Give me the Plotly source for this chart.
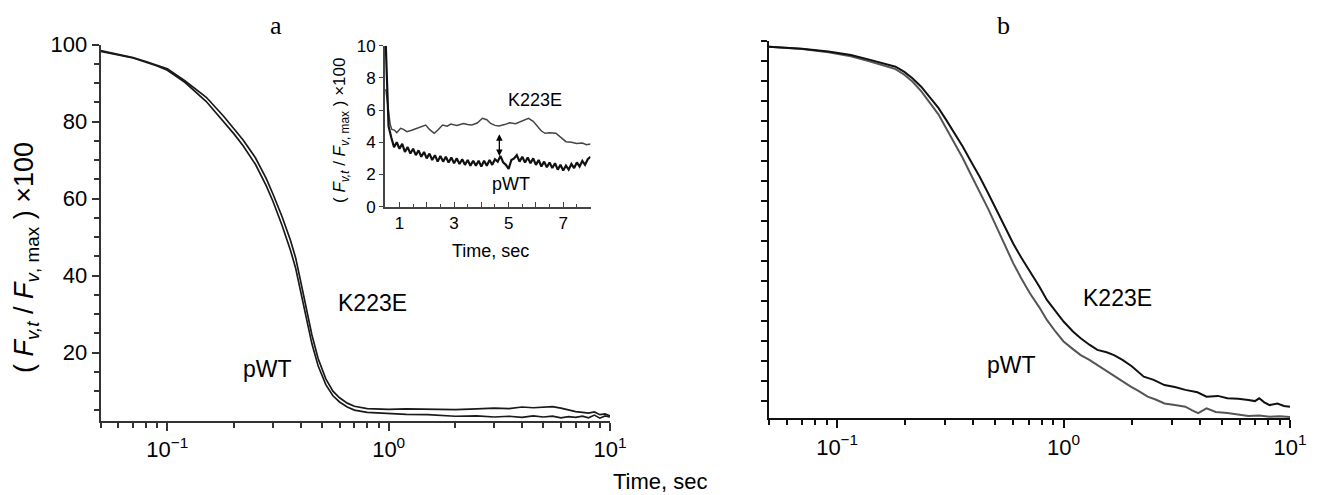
import plotly.graph_objects as go

# ---------------- data ----------------
# Panel a (main): time (s) and normalized fluorescence
a_time = [0.05, 0.06, 0.07, 0.08, 0.09, 0.10, 0.12, 0.15, 0.18, 0.20, 0.22, 0.25, 0.28, 0.30,
          0.33, 0.36, 0.38, 0.40, 0.42, 0.45, 0.48, 0.52, 0.56, 0.60, 0.65, 0.70, 0.80, 0.90, 1.0,
          1.2, 1.5, 1.8, 2.0, 2.5, 3.0, 3.5, 4.0, 4.5, 5.0, 5.5, 6.0, 6.5, 7.0, 7.5, 8.0, 8.5,
          9.0, 9.5, 10.0]
a_k223e = [98.4, 97.5, 96.6, 95.6, 94.7, 93.7, 90.6, 86.3, 81.3, 78.2, 75.2, 70.6, 65.2, 61.2,
           55.3, 49.2, 44.6, 38.6, 32.5, 24.6, 18.5, 13.2, 10.0, 8.3, 6.9, 6.1, 5.5, 5.4, 5.3,
           5.4, 5.3, 5.1, 5.2, 5.4, 5.6, 5.5, 5.9, 5.7, 5.8, 6.0, 5.6, 5.1, 4.7, 4.5, 4.3, 4.6,
           3.9, 4.1, 3.6]
a_pwt = [98.2, 97.3, 96.5, 95.4, 94.4, 93.3, 90.2, 85.2, 80.0, 76.8, 73.7, 68.9, 63.3, 59.3,
         53.0, 46.6, 41.9, 35.8, 29.8, 22.3, 16.6, 11.7, 8.8, 7.2, 5.9, 5.1, 4.5, 4.3, 4.2,
         4.0, 3.9, 3.7, 3.5, 3.6, 3.3, 3.5, 3.2, 3.6, 3.3, 3.5, 3.1, 3.4, 3.2, 3.5, 3.1, 3.8,
         3.0, 3.6, 3.3]

# Panel b
b_k_time = [0.05, 0.07, 0.0914, 0.115, 0.14, 0.16, 0.181, 0.198, 0.215, 0.235, 0.255, 0.28,
            0.303, 0.33, 0.359, 0.39, 0.426, 0.465, 0.505, 0.55, 0.599, 0.65, 0.711, 0.78,
            0.844, 0.92, 1.0, 1.1, 1.19, 1.3, 1.41, 1.55, 1.67, 1.82, 2.0, 2.26, 2.5, 2.79,
            3.1, 3.45, 3.9, 4.28, 4.8, 5.29, 5.9, 6.55, 7.0, 7.31, 7.7, 8.13, 8.8, 9.4, 10.0]
b_k223e = [98.5, 98.0, 97.3, 96.4, 95.2, 94.4, 93.5, 92.2, 90.6, 88.5, 86.0, 83.2,
           80.2, 76.9, 73.5, 69.8, 66.0, 61.8, 57.7, 53.4, 49.3, 45.8, 42.3, 38.6,
           35.2, 32.4, 29.8, 27.3, 25.6, 24.0, 22.7, 22.1, 21.4, 20.2, 18.6, 16.0, 15.2, 13.9,
           13.4, 12.7, 12.1, 11.0, 11.2, 10.6, 10.5, 10.2, 9.9, 10.6, 9.6, 8.9, 9.3, 8.7, 8.5]
b_p_time = [0.05, 0.07, 0.0914, 0.115, 0.14, 0.16, 0.181, 0.198, 0.215, 0.235, 0.255, 0.28,
            0.303, 0.33, 0.359, 0.39, 0.426, 0.465, 0.505, 0.55, 0.599, 0.65, 0.711, 0.78,
            0.844, 0.92, 1.0, 1.1, 1.19, 1.3, 1.41, 1.55, 1.67, 1.82, 1.98, 2.15, 2.35, 2.55,
            2.79, 3.1, 3.45, 3.7, 3.93, 4.28, 4.7, 5.29, 5.9, 6.55, 7.3, 8.13, 9.0, 10.0]
b_pwt = [98.5, 97.9, 97.1, 96.1, 94.8, 93.9, 92.9, 91.5, 89.8, 87.4, 84.8, 81.6,
         78.1, 74.4, 70.6, 66.5, 62.3, 57.9, 53.5, 49.0, 44.4, 40.6, 36.8, 33.4,
         30.2, 27.3, 24.8, 22.9, 21.4, 20.2, 18.9, 17.5, 16.4, 15.0, 13.5, 12.4, 11.0, 10.3,
         9.3, 8.9, 8.5, 7.6, 6.9, 8.1, 7.2, 6.9, 6.6, 6.2, 6.3, 6.0, 6.1, 5.9]

# Inset (linear time)
ins_k_time = [0.5, 0.55, 0.6, 0.66, 0.72, 0.81, 0.9, 1.04, 1.15, 1.27, 1.45, 1.66, 1.8, 1.96,
              2.1, 2.27, 2.4, 2.58, 2.75, 2.88, 3.1, 3.35, 3.5, 3.65, 3.85, 4.04, 4.2, 4.34,
              4.5, 4.65, 4.85, 5.04, 5.25, 5.42, 5.6, 5.73, 5.9, 6.03, 6.2, 6.34, 6.5, 6.73,
              6.9, 7.1, 7.3, 7.49, 7.7, 7.85, 8.0]
ins_k_val = [7.3, 6.6, 5.8, 5.1, 4.8, 4.76, 4.6, 4.87, 4.8, 4.66, 4.75, 4.87, 4.95, 5.07,
             4.8, 4.56, 4.75, 5.07, 5.0, 5.13, 5.05, 5.17, 5.1, 5.07, 5.2, 5.49, 5.4, 5.17,
             5.05, 5.01, 5.1, 5.21, 5.15, 5.27, 5.35, 5.49, 5.3, 5.01, 4.7, 4.56, 4.6, 4.56,
             4.3, 4.04, 4.0, 3.93, 3.95, 3.85, 3.89]
ins_p_time = [0.5, 0.55, 0.6, 0.7, 0.8, 0.9, 1.0, 1.1, 1.2, 1.3, 1.4, 1.5, 1.6, 1.7, 1.8, 1.9,
              2.0, 2.1, 2.2, 2.3, 2.4, 2.5, 2.6, 2.7, 2.8, 2.9, 3.0, 3.1, 3.2, 3.3, 3.4, 3.5,
              3.6, 3.7, 3.8, 3.9, 4.0, 4.1, 4.2, 4.3, 4.4, 4.5, 4.6, 4.7, 4.8, 4.9, 5.0, 5.1,
              5.2, 5.3, 5.4, 5.5, 5.6, 5.7, 5.8, 5.9, 6.0, 6.1, 6.2, 6.3, 6.4, 6.5, 6.6, 6.7,
              6.8, 6.9, 7.0, 7.1, 7.2, 7.3, 7.4, 7.5, 7.6, 7.7, 7.8, 7.9, 8.0]
ins_p_val = [10.0, 7.0, 5.0, 4.3, 3.7, 4.0, 3.6, 3.9, 3.4, 3.7, 3.3, 3.6, 3.2, 3.5, 3.1, 3.4,
             3.0, 3.3, 2.9, 3.2, 2.8, 3.15, 2.8, 3.1, 2.75, 3.05, 2.7, 3.0, 2.65, 2.95, 2.6, 2.9,
             2.55, 2.85, 2.55, 2.85, 2.5, 2.85, 2.55, 2.9, 2.6, 2.95, 2.8, 3.15, 2.75, 2.6, 2.35, 2.9,
             3.0, 3.2, 2.8, 3.1, 2.75, 3.05, 2.7, 3.0, 2.6, 2.9, 2.5, 2.8, 2.45, 2.75, 2.4, 2.7,
             2.3, 2.6, 2.25, 2.55, 2.3, 2.65, 2.4, 2.75, 2.5, 2.85, 2.6, 2.95, 3.1]

log_major = [0.1, 1, 10]
log_major_text = ["10<sup>−1</sup>", "10<sup>0</sup>", "10<sup>1</sup>"]
log_minor = [0.05, 0.06, 0.07, 0.08, 0.09, 0.2, 0.3, 0.4, 0.5, 0.6, 0.7, 0.8, 0.9,
             2, 3, 4, 5, 6, 7, 8, 9]
a_y_major = [20, 40, 60, 80, 100]
a_y_minor = [5, 10, 15, 25, 30, 35, 45, 50, 55, 65, 70, 75, 85, 90, 95]
b_y_ticks = [10, 15, 20, 25, 30, 35, 40, 45, 50, 55, 60, 65, 70, 75, 80, 85, 90, 95, 100]
ins_x_major = [1, 2, 3, 4, 5, 6, 7, 8]
ins_x_text = ["1", "", "3", "", "5", "", "7", ""]
ins_x_minor = [1.5, 2.5, 3.5, 4.5, 5.5, 6.5, 7.5]
ins_y_ticks = [0, 2, 4, 6, 8, 10]

# ---------------- figure ----------------
W, H = 1319, 495
OFF = 8  # page body margin offset in the browser
FONT = "Liberation Sans, Arial, sans-serif"
SERIF = "Liberation Serif, Times New Roman, serif"


def fx(px):
    return (px - OFF) / W


def fy(py):
    return 1 - (py - OFF) / H


fig = go.Figure()
fig.add_trace(go.Scatter(x=a_time, y=a_k223e, mode="lines", line=dict(color="#1a1a1a", width=1.7),
                         xaxis="x", yaxis="y", name="K223E"))
fig.add_trace(go.Scatter(x=a_time, y=a_pwt, mode="lines", line=dict(color="#1a1a1a", width=1.7),
                         xaxis="x", yaxis="y", name="pWT"))
fig.add_trace(go.Scatter(x=b_p_time, y=b_pwt, mode="lines", line=dict(color="#555555", width=2),
                         xaxis="x2", yaxis="y2", name="pWT"))
fig.add_trace(go.Scatter(x=b_k_time, y=b_k223e, mode="lines", line=dict(color="#111111", width=2),
                         xaxis="x2", yaxis="y2", name="K223E"))
fig.add_trace(go.Scatter(x=ins_k_time, y=ins_k_val, mode="lines", line=dict(color="#444444", width=1.5),
                         xaxis="x3", yaxis="y3", name="K223E"))
fig.add_trace(go.Scatter(x=ins_p_time, y=ins_p_val, mode="lines", line=dict(color="#111111", width=2.2),
                         xaxis="x3", yaxis="y3", name="pWT"))

axis_common = dict(showgrid=False, zeroline=False, showline=True, mirror=False, automargin=False)

fig.update_layout(
    width=W, height=H, margin=dict(l=0, r=0, t=0, b=0, pad=0, autoexpand=False),
    paper_bgcolor="white", plot_bgcolor="rgba(0,0,0,0)", showlegend=False,
    font=dict(family=FONT, color="black"),
    xaxis=dict(**axis_common, type="log", range=[-1.30103, 1], domain=[fx(100.7), fx(610)], anchor="y",
               linecolor="#333", linewidth=2, ticks="outside", ticklen=8, tickwidth=1.5, tickcolor="#333",
               tickvals=log_major, ticktext=log_major_text, tickfont=dict(size=22),
               minor=dict(tickvals=log_minor, ticks="outside", ticklen=5, tickwidth=1.5, tickcolor="#333")),
    yaxis=dict(**axis_common, range=[2.34, 100], domain=[fy(420.7), fy(44.5)], anchor="x",
               linecolor="#333", linewidth=2, ticks="outside", ticklen=7, tickwidth=1.5, tickcolor="#333",
               tickvals=a_y_major, tickfont=dict(size=22),
               minor=dict(tickvals=a_y_minor, ticks="outside", ticklen=5, tickwidth=1.5, tickcolor="#333")),
    xaxis2=dict(**axis_common, type="log", range=[-1.30103, 1], domain=[fx(769), fx(1290)], anchor="y2",
                linecolor="#111", linewidth=2, ticks="outside", ticklen=8, tickwidth=1.5, tickcolor="#111",
                tickvals=log_major, ticktext=log_major_text, tickfont=dict(size=22),
                minor=dict(tickvals=log_minor, ticks="outside", ticklen=5, tickwidth=1.5, tickcolor="#111")),
    yaxis2=dict(**axis_common, range=[5.6, 100], domain=[fy(418.3), fy(40.7)], anchor="x2",
                linecolor="#111", linewidth=2, ticks="outside", ticklen=6, tickwidth=1.5, tickcolor="#111",
                tickvals=b_y_ticks, showticklabels=False),
    xaxis3=dict(**axis_common, range=[0.47, 8.0], domain=[fx(385), fx(590.5)], anchor="y3",
                linecolor="#444", linewidth=2, ticks="inside", ticklen=5, tickwidth=1.3, tickcolor="#444",
                tickvals=ins_x_major, ticktext=ins_x_text, tickfont=dict(size=17),
                minor=dict(tickvals=ins_x_minor, ticks="inside", ticklen=3, tickwidth=1.3, tickcolor="#444")),
    yaxis3=dict(**axis_common, range=[0, 10], domain=[fy(206.7), fy(45.7)], anchor="x3",
                linecolor="#444", linewidth=2, ticks="outside", ticklen=4, tickwidth=1.3, tickcolor="#444",
                tickvals=ins_y_ticks, tickfont=dict(size=17)),
)

ytitle = "( <i>F</i><sub><i>v,t</i></sub> / <i>F</i><sub><i>v</i>, max</sub> ) ×100"


def txt(text, px, py, size, family=FONT, angle=0):
    fig.add_annotation(text=text, xref="paper", yref="paper", x=fx(px), y=fy(py),
                       xanchor="center", yanchor="middle", showarrow=False, textangle=angle,
                       borderpad=0, font=dict(size=size, family=family, color="black"))


txt("a", 276, 25, 26, SERIF)
txt("b", 1003, 25, 26, SERIF)
txt(ytitle, 26, 258, 27, angle=-90)
txt("Time, sec", 660, 481, 22)
txt("K223E", 373, 303, 23)
txt("pWT", 267, 369, 23)
txt("K223E", 1117, 298, 23)
txt("pWT", 1011, 365, 23)
txt("K223E", 535, 100, 18)
txt("pWT", 511, 184, 18)
txt("Time, sec", 490, 251, 18)
txt(ytitle, 341, 131, 17, angle=-90)

# double-headed arrow in inset
fig.add_annotation(x=4.66, y=3.15, ax=4.66, ay=4.6, xref="x3", yref="y3", axref="x3", ayref="y3",
                   text="", showarrow=True, arrowhead=2, arrowside="end+start", arrowwidth=1.3,
                   arrowsize=1, arrowcolor="black")

fig.write_html("out.html")
